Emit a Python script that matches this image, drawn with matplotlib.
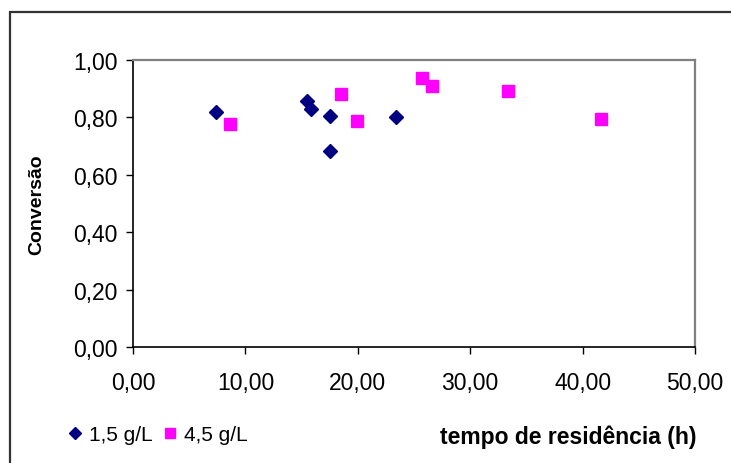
import matplotlib
matplotlib.use("Agg")
import matplotlib.pyplot as plt
from matplotlib.patches import Rectangle
from matplotlib.ticker import FuncFormatter, MultipleLocator

# tempo de residencia (h) e conversao
tempo_15 = [7.36, 15.45, 15.84, 17.56, 17.56, 23.37]
conv_15 = [0.820, 0.857, 0.829, 0.806, 0.684, 0.800]

tempo_45 = [8.60, 18.48, 19.90, 25.68, 26.63, 33.36, 41.66]
conv_45 = [0.777, 0.882, 0.789, 0.936, 0.910, 0.893, 0.794]

plt.rcParams['font.family'] = ['Liberation Sans', 'DejaVu Sans']

fig = plt.figure(figsize=(7.31, 4.64), dpi=100)
ax = fig.add_axes([133 / 731, 1 - 348 / 464, 562 / 731, 287 / 464])

ax.plot(tempo_15, conv_15, linestyle='none', marker='D', ms=7.2,
        color='#000080', label='1,5 g/L')
ax.plot(tempo_45, conv_45, linestyle='none', marker='s', ms=8.5,
        color='#FF00FF', label='4,5 g/L')

ax.set_xlim(0, 50)
ax.set_ylim(0, 1)
ax.xaxis.set_major_locator(MultipleLocator(10))
ax.yaxis.set_major_locator(MultipleLocator(0.2))
fmt = FuncFormatter(lambda v, p: ('%.2f' % v).replace('.', ','))
ax.xaxis.set_major_formatter(fmt)
ax.yaxis.set_major_formatter(fmt)
ax.tick_params(labelsize=16.5, direction='out', length=5, width=1,
               color='black')
ax.tick_params(axis='x', pad=12)
ax.tick_params(axis='y', pad=6)

for s in ['left', 'bottom']:
    ax.spines[s].set_color('black')
    ax.spines[s].set_linewidth(1.2)
for s in ['top', 'right']:
    ax.spines[s].set_color('#808080')
    ax.spines[s].set_linewidth(1.6)

ax.set_ylabel('Conversão', fontsize=14, fontweight='bold', labelpad=20)
fig.text(697 / 731, 1 - 437 / 464, 'tempo de residência (h)', fontsize=16.5,
         fontweight='bold', ha='right', va='center')

leg = ax.legend(loc='center left', bbox_to_anchor=(59 / 731, 1 - 436 / 464),
                bbox_transform=fig.transFigure, ncol=2, frameon=False,
                fontsize=15, handlelength=0.5, handletextpad=0.45,
                columnspacing=0.55, borderpad=0, markerscale=0.8)

frame = Rectangle((10 / 731, -0.05), 1.1, 1 - 13 / 464 + 0.05,
                  transform=fig.transFigure, fill=False,
                  edgecolor='#333333', linewidth=1.6, clip_on=False)
fig.patches.append(frame)

fig.savefig('out.png', dpi=100)
